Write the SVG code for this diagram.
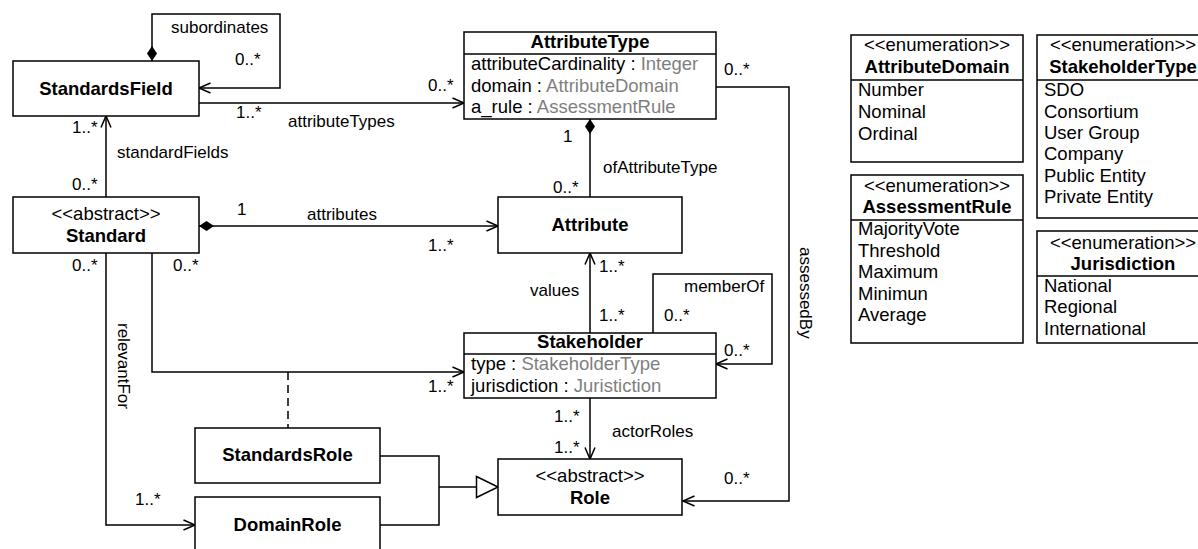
<svg xmlns="http://www.w3.org/2000/svg" width="1198" height="549" viewBox="0 0 1198 549">
  <style>
    text { font-family: "Liberation Sans", Arial, Helvetica, sans-serif; fill: #000; }
    .box { fill: #fff; stroke: #000; stroke-width: 1.5; }
    .sep { stroke: #000; stroke-width: 1.5; }
    .name { font-size: 18.5px; font-weight: bold; text-anchor: middle; }
    .stereo { font-size: 18.5px; text-anchor: middle; }
    .item { font-size: 18.5px; }
    .type { fill: #7f7f7f; }
    .lbl { font-size: 17px; }
    .conn path { fill: none; stroke: #000; stroke-width: 1.5; }
    .dash { stroke-dasharray: 8 5; }
  </style>
  <defs>
    <marker id="open" markerUnits="userSpaceOnUse" markerWidth="14" markerHeight="12" refX="12.5" refY="6" orient="auto" overflow="visible">
      <path d="M1,1 L12.5,6 L1,11" fill="none" stroke="#000" stroke-width="1.5"/>
    </marker>
    <marker id="diamond" markerUnits="userSpaceOnUse" markerWidth="16" markerHeight="11" refX="0" refY="5" orient="auto" overflow="visible">
      <path d="M0,5 L7.5,0 L15,5 L7.5,10 Z" fill="#000"/>
    </marker>
    <marker id="triangle" markerUnits="userSpaceOnUse" markerWidth="23" markerHeight="23" refX="21.5" refY="10.5" orient="auto" overflow="visible">
      <path d="M0,0 L21.5,10.5 L0,21 Z" fill="#fff" stroke="#000" stroke-width="1.5"/>
    </marker>
  </defs>

  <!-- associations -->
  <g id="connectors" class="conn">
    <path d="M152,61 V14 H280 V88 H199" marker-start="url(#diamond)" marker-end="url(#open)"/>
    <path d="M199,103 H464" marker-end="url(#open)"/>
    <path d="M106,197 V116" marker-end="url(#open)"/>
    <path d="M199,226 H498" marker-start="url(#diamond)" marker-end="url(#open)"/>
    <path d="M590,119 V197" marker-start="url(#diamond)"/>
    <path d="M590,333 V253" marker-end="url(#open)"/>
    <path d="M653,333 V274 H772 V364 H716" marker-end="url(#open)"/>
    <path d="M716,87 H789 V501 H683" marker-end="url(#open)"/>
    <path d="M152,253 V372 H464" marker-end="url(#open)"/>
    <path d="M106,253 V525 H195" marker-end="url(#open)"/>
    <path d="M590,398 V459" marker-end="url(#open)"/>
    <path class="dash" d="M288,372 V428"/>
    <path d="M380,456 H439 V525 H380"/>
    <path d="M439,487 H498" marker-end="url(#triangle)"/>

    <text class="lbl" x="171" y="33">subordinates</text>
    <text class="lbl" x="235" y="65">0..*</text>
    <text class="lbl" x="428" y="91">0..*</text>
    <text class="lbl" x="236" y="118">1..*</text>
    <text class="lbl" x="288" y="127">attributeTypes</text>
    <text class="lbl" x="72" y="133">1..*</text>
    <text class="lbl" x="117" y="158">standardFields</text>
    <text class="lbl" x="72" y="190">0..*</text>
    <text class="lbl" x="724" y="75">0..*</text>
    <text class="lbl" x="563" y="142">1</text>
    <text class="lbl" x="603" y="173">ofAttributeType</text>
    <text class="lbl" x="553" y="193">0..*</text>
    <text class="lbl" x="237" y="215">1</text>
    <text class="lbl" x="307" y="220">attributes</text>
    <text class="lbl" x="428" y="251">1..*</text>
    <text class="lbl" x="72" y="271">0..*</text>
    <text class="lbl" x="173" y="271">0..*</text>
    <text class="lbl" x="599" y="272">1..*</text>
    <text class="lbl" x="530" y="296">values</text>
    <text class="lbl" x="684" y="292">memberOf</text>
    <text class="lbl" x="599" y="321">1..*</text>
    <text class="lbl" x="664" y="321">0..*</text>
    <text class="lbl" x="724" y="356">0..*</text>
    <text class="lbl" x="428" y="392">1..*</text>
    <text class="lbl" x="554" y="422">1..*</text>
    <text class="lbl" x="612" y="437">actorRoles</text>
    <text class="lbl" x="554" y="453">1..*</text>
    <text class="lbl" x="724" y="484">0..*</text>
    <text class="lbl" x="135" y="505">1..*</text>
    <text class="lbl" transform="translate(117.5,323) rotate(90)">relevantFor</text>
    <text class="lbl" transform="translate(799.5,247) rotate(90)">assessedBy</text>
  </g>

  <g id="StandardsField">
    <rect class="box" x="13" y="61" width="186" height="55"/>
    <text class="name" x="106" y="94.5">StandardsField</text>
  </g>

  <g id="AttributeType">
    <rect class="box" x="464" y="32" width="252" height="87"/>
    <line class="sep" x1="464" y1="54" x2="716" y2="54"/>
    <text class="name" x="590" y="48">AttributeType</text>
    <text class="item" x="471" y="70">attributeCardinality : <tspan class="type">Integer</tspan></text>
    <text class="item" x="471" y="92">domain : <tspan class="type">AttributeDomain</tspan></text>
    <text class="item" x="471" y="113">a_rule : <tspan class="type">AssessmentRule</tspan></text>
  </g>

  <g id="Standard">
    <rect class="box" x="13" y="197" width="186" height="56"/>
    <text class="stereo" x="106" y="220">&lt;&lt;abstract&gt;&gt;</text>
    <text class="name" x="106" y="242">Standard</text>
  </g>

  <g id="Attribute">
    <rect class="box" x="498" y="197" width="184" height="56"/>
    <text class="name" x="590" y="231">Attribute</text>
  </g>

  <g id="Stakeholder">
    <rect class="box" x="464" y="333" width="252" height="65"/>
    <line class="sep" x1="464" y1="354" x2="716" y2="354"/>
    <text class="name" x="590" y="348">Stakeholder</text>
    <text class="item" x="471" y="370">type : <tspan class="type">StakeholderType</tspan></text>
    <text class="item" x="471" y="392">jurisdiction : <tspan class="type">Juristiction</tspan></text>
  </g>

  <g id="StandardsRole">
    <rect class="box" x="195" y="428" width="185" height="55"/>
    <text class="name" x="287.5" y="461">StandardsRole</text>
  </g>

  <g id="DomainRole">
    <rect class="box" x="195" y="497" width="185" height="56"/>
    <text class="name" x="287.5" y="531">DomainRole</text>
  </g>

  <g id="Role">
    <rect class="box" x="498" y="459" width="184" height="56"/>
    <text class="stereo" x="590" y="482">&lt;&lt;abstract&gt;&gt;</text>
    <text class="name" x="590" y="504">Role</text>
  </g>

  <g id="AttributeDomain">
    <rect class="box" x="851" y="35" width="172" height="127"/>
    <line class="sep" x1="851" y1="80" x2="1023" y2="80"/>
    <text class="stereo" x="937" y="51">&lt;&lt;enumeration&gt;&gt;</text>
    <text class="name" x="937" y="73">AttributeDomain</text>
    <text class="item" x="858" y="96">Number</text>
    <text class="item" x="858" y="118">Nominal</text>
    <text class="item" x="858" y="140">Ordinal</text>
  </g>

  <g id="AssessmentRule">
    <rect class="box" x="851" y="175" width="172" height="168"/>
    <line class="sep" x1="851" y1="220" x2="1023" y2="220"/>
    <text class="stereo" x="937" y="192">&lt;&lt;enumeration&gt;&gt;</text>
    <text class="name" x="937" y="213">AssessmentRule</text>
    <text class="item" x="858" y="235">MajorityVote</text>
    <text class="item" x="858" y="257">Threshold</text>
    <text class="item" x="858" y="278">Maximum</text>
    <text class="item" x="858" y="300">Minimun</text>
    <text class="item" x="858" y="321">Average</text>
  </g>

  <g id="StakeholderType">
    <rect class="box" x="1037" y="35" width="172" height="183"/>
    <line class="sep" x1="1037" y1="80" x2="1209" y2="80"/>
    <text class="stereo" x="1123" y="51">&lt;&lt;enumeration&gt;&gt;</text>
    <text class="name" x="1123" y="73">StakeholderType</text>
    <text class="item" x="1044" y="96">SDO</text>
    <text class="item" x="1044" y="118">Consortium</text>
    <text class="item" x="1044" y="139">User Group</text>
    <text class="item" x="1044" y="160">Company</text>
    <text class="item" x="1044" y="182">Public Entity</text>
    <text class="item" x="1044" y="203">Private Entity</text>
  </g>

  <g id="Jurisdiction">
    <rect class="box" x="1037" y="231" width="172" height="112"/>
    <line class="sep" x1="1037" y1="276" x2="1209" y2="276"/>
    <text class="stereo" x="1123" y="249">&lt;&lt;enumeration&gt;&gt;</text>
    <text class="name" x="1123" y="270">Jurisdiction</text>
    <text class="item" x="1044" y="292">National</text>
    <text class="item" x="1044" y="313">Regional</text>
    <text class="item" x="1044" y="335">International</text>
  </g>
</svg>
